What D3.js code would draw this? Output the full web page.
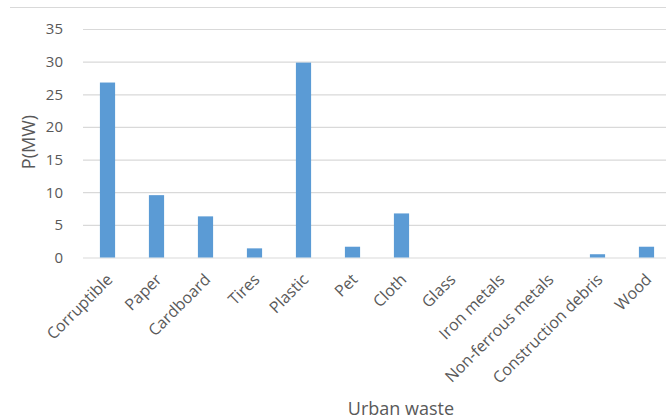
<!DOCTYPE html>
<html>
<head>
<meta charset="utf-8">
<script src="https://cdn.jsdelivr.net/npm/d3@7"></script>
<style>
  body { margin: 0; background: #fff; }
  svg { display: block; font-family: "Open Sans", sans-serif; }
</style>
</head>
<body>
<div id="chart"></div>
<script>
  // data
  let categories = ['Corruptible', 'Paper', 'Cardboard', 'Tires', 'Plastic', 'Pet', 'Cloth',
                    'Glass', 'Iron metals', 'Non-ferrous metals', 'Construction debris', 'Wood'];
  let power = [26.8, 9.55, 6.3, 1.4, 29.85, 1.65, 6.75, 0, 0, 0, 0.5, 1.65];
  let yTicks = [0, 5, 10, 15, 20, 25, 30, 35];

  let width = 666, height = 419;
  let margin = {top: 29, right: -5, bottom: 161.5, left: 83};

  let svg = d3.select('#chart')
    .append('svg')
    .attr('width', width)
    .attr('height', height);

  // chart frame top edge
  svg.append('line')
    .attr('x1', 10).attr('x2', width)
    .attr('y1', 7.5).attr('y2', 7.5)
    .attr('stroke', '#d9d9d9');

  let x = d3.scaleBand()
    .domain(categories)
    .range([margin.left, width - margin.right])
    .paddingInner(0.69)
    .paddingOuter(0.345);

  let y = d3.scaleLinear()
    .domain([0, 35])
    .range([height - margin.bottom, margin.top]);

  // gridlines
  svg.append('g')
    .selectAll('line')
    .data(yTicks).enter()
    .append('line')
    .attr('x1', margin.left)
    .attr('x2', width - margin.right)
    .attr('y1', d => y(d) + 0.5)
    .attr('y2', d => y(d) + 0.5)
    .attr('stroke', '#d9d9d9')
    .attr('stroke-width', 1.2);

  // y axis labels
  let yAxis = svg.append('g')
    .attr('transform', 'translate(' + (margin.left - 20) + ',0)')
    .call(d3.axisLeft(y).tickValues(yTicks).tickSize(0).tickPadding(0));
  yAxis.select('.domain').remove();
  yAxis.selectAll('text')
    .attr('fill', '#595959')
    .style('font-size', '15px')
    .style('font-family', '"Open Sans", sans-serif');

  // bars
  svg.append('g')
    .selectAll('rect')
    .data(power).enter()
    .append('rect')
    .attr('x', (d, i) => x(categories[i]))
    .attr('y', d => y(d))
    .attr('width', x.bandwidth())
    .attr('height', d => y(0) - y(d))
    .attr('fill', '#5b9bd5');

  // x labels, rotated
  svg.append('g')
    .selectAll('text')
    .data(categories).enter()
    .append('text')
    .attr('transform', d => 'translate(' + (x(d) + x.bandwidth() / 2 - 2) + ',' + (y(0) + 15) + ') rotate(-45)')
    .attr('text-anchor', 'end')
    .attr('dy', '0.71em')
    .attr('fill', '#595959')
    .style('font-size', '16px')
    .text(d => d);

  // axis titles
  svg.append('text')
    .attr('x', 401)
    .attr('y', 415)
    .attr('text-anchor', 'middle')
    .attr('fill', '#595959')
    .style('font-size', '18px')
    .text('Urban waste');

  svg.append('text')
    .attr('transform', 'translate(35,142) rotate(-90)')
    .attr('text-anchor', 'middle')
    .attr('fill', '#595959')
    .style('font-size', '18px')
    .text('P(MW)');
</script>
</body>
</html>
